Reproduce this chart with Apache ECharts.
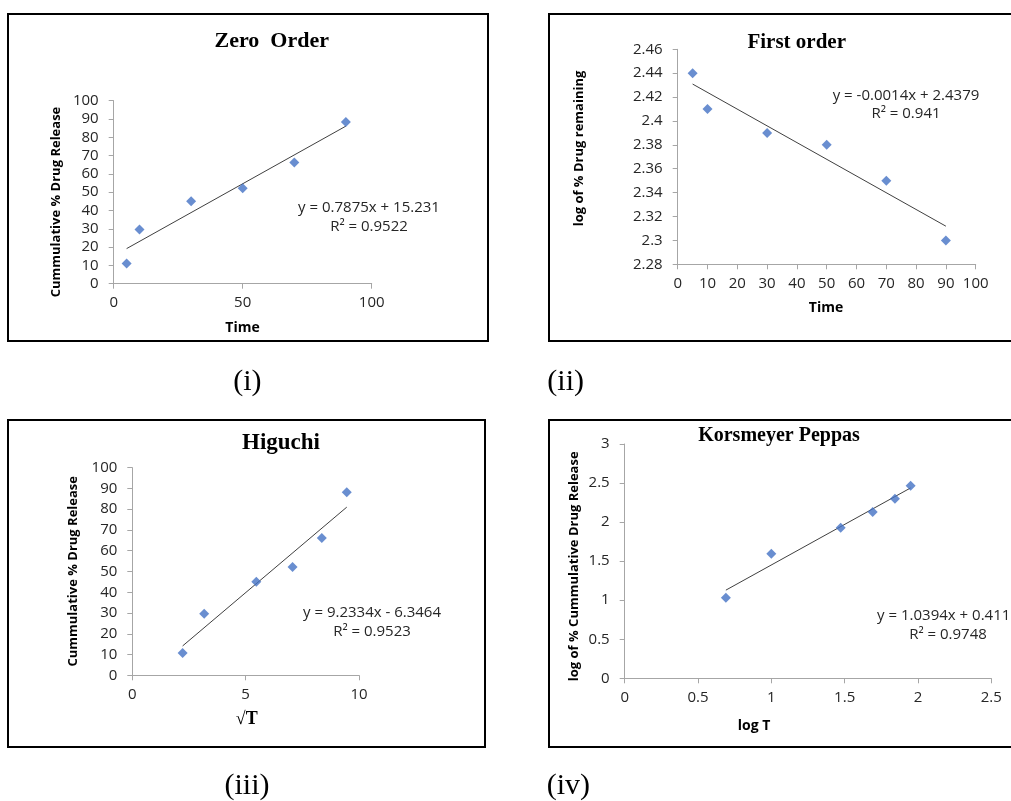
<!DOCTYPE html>
<html>
<head>
<meta charset="utf-8">
<script src="https://cdn.jsdelivr.net/npm/echarts@6/dist/echarts.min.js"></script>
<style>
html,body{margin:0;padding:0;background:#fff;}
#c{width:1011px;height:801px;}
</style>
</head>
<body>
<div id="c"></div>
<script>
// ---- Data ----
const zeroTime = [5, 10, 30, 50, 70, 90];
const zeroRelease = [11, 29.6, 45, 52.1, 66.2, 88.3];
const zeroTrend = [[5, 19.17], [90, 86.11]];

const firstTime = [5, 10, 30, 50, 70, 90];
const firstLogRemaining = [2.44, 2.41, 2.39, 2.38, 2.35, 2.30];
const firstTrend = [[5, 2.4309], [90, 2.3119]];

const higuchiSqrtT = [2.22, 3.17, 5.47, 7.07, 8.36, 9.46];
const higuchiRelease = [10.8, 29.7, 45.1, 52.2, 66.1, 88.2];
const higuchiTrend = [[2.22, 14.15], [9.46, 81.0]];

const peppasLogT = [0.69, 1.0, 1.473, 1.691, 1.843, 1.95];
const peppasLogRelease = [1.03, 1.596, 1.929, 2.13, 2.30, 2.467];
const peppasTrend = [[0.69, 1.129], [1.95, 2.438]];

const titles = ['Zero  Order', 'First order', 'Higuchi', 'Korsmeyer Peppas'];
const captions = ['(i)', '(ii)', '(iii)', '(iv)'];
const equations = [
  ['y = 0.7875x + 15.231', 'R\u00b2 = 0.9522'],
  ['y = -0.0014x + 2.4379', 'R\u00b2 = 0.941'],
  ['y = 9.2334x - 6.3464', 'R\u00b2 = 0.9523'],
  ['y = 1.0394x + 0.4115', 'R\u00b2 = 0.9748']
];
const yNames = ['Cummulative % Drug Release', 'log of % Drug remaining', 'Cummulative % Drug Release', 'log of % Cummulative Drug Release'];
const xNames = ['Time', 'Time', '\u221aT', 'log T'];

// ---- Styling ----
const SANS = '"Open Sans", "Liberation Sans", sans-serif';
const SERIF = '"Liberation Serif", "Times New Roman", serif';
const MARK = '#4472C4';
const AXIS = '#A6A6A6';
const TXT = '#262626';

const grids = [
  {left: 113.7, top: 100.7, width: 258, height: 183},
  {left: 677.7, top: 49.3, width: 298, height: 215},
  {left: 132.3, top: 467.7, width: 226.7, height: 207.6},
  {left: 624.7, top: 444, width: 366.6, height: 234.3}
];
const xr = [[0, 100, 50], [0, 100, 10], [0, 10, 5], [0, 2.5, 0.5]];
const yr = [[0, 100, 10], [2.28, 2.46, 0.02], [0, 100, 10], [0, 3, 0.5]];

function axisCommon(i, range, isX) {
  return {
    type: 'value', gridIndex: i, min: range[0], max: range[1], interval: range[2],
    axisLine: {show: true, onZero: false, lineStyle: {color: AXIS, width: 1}},
    axisTick: {show: true, inside: false, length: 5, lineStyle: {color: AXIS}},
    splitLine: {show: false},
    axisLabel: {color: TXT, fontFamily: SANS, fontSize: 15, margin: isX ? 12 : 15,
      formatter: v => String(+v.toFixed(4))}
  };
}

const pts = [
  zeroTime.map((x, k) => [x, zeroRelease[k]]),
  firstTime.map((x, k) => [x, firstLogRemaining[k]]),
  higuchiSqrtT.map((x, k) => [x, higuchiRelease[k]]),
  peppasLogT.map((x, k) => [x, peppasLogRelease[k]])
];
const trends = [zeroTrend, firstTrend, higuchiTrend, peppasTrend];

const series = [];
for (let i = 0; i < 4; i++) {
  series.push({type: 'line', xAxisIndex: i, yAxisIndex: i, data: trends[i], symbol: 'none',
    lineStyle: {color: '#404040', width: 1}, silent: true, z: 2});
  series.push({type: 'scatter', xAxisIndex: i, yAxisIndex: i, data: pts[i], symbol: 'diamond',
    symbolSize: [10, 10], itemStyle: {color: MARK}, z: 3});
}

// text layout
const boxes = [[8, 14, 480, 327], [549, 14, 470, 327], [8, 420, 477, 327], [549, 420, 470, 327]];
const titlePos = [[271.7, 41.7, 22], [796.7, 42.7, 21], [281, 443, 23], [779, 435.7, 20]];
const capPos = [[247.3, 382], [565.7, 382], [247, 786], [568.3, 786]];
const eqPos = [[369, 208, 227], [906, 95.3, 114], [372, 613, 632], [948, 616, 634.3]];
const yNamePos = [[56, 202], [579, 148.5], [73, 571.3], [574.7, 566.3]];
const xNamePos = [[242.5, 328], [826, 308], [246.7, 719.3], [754, 726]];

const graphic = [];
for (let i = 0; i < 4; i++) {
  const b = boxes[i];
  graphic.push({type: 'rect', shape: {x: b[0], y: b[1], width: b[2], height: b[3]},
    style: {fill: 'none', stroke: '#000', lineWidth: 2}, z: 1});
  graphic.push({type: 'text', x: titlePos[i][0], y: titlePos[i][1],
    style: {text: titles[i], font: 'bold ' + titlePos[i][2] + 'px ' + SERIF, fill: '#000',
      textAlign: 'center', textVerticalAlign: 'middle'}});
  graphic.push({type: 'text', x: capPos[i][0], y: capPos[i][1],
    style: {text: captions[i], font: '30px ' + SERIF, fill: '#000', textAlign: 'center', textVerticalAlign: 'middle'}});
  graphic.push({type: 'text', x: eqPos[i][0], y: eqPos[i][1],
    style: {text: equations[i][0], font: '15px ' + SANS, fill: TXT, textAlign: 'center', textVerticalAlign: 'middle'}});
  graphic.push({type: 'text', x: eqPos[i][0], y: eqPos[i][2],
    style: {text: equations[i][1], font: '15px ' + SANS, fill: TXT, textAlign: 'center', textVerticalAlign: 'middle'}});
  graphic.push({type: 'text', x: yNamePos[i][0], y: yNamePos[i][1], rotation: Math.PI / 2,
    style: {text: yNames[i], font: 'bold 13px ' + SANS, fill: '#000', textAlign: 'center', textVerticalAlign: 'middle'}});
  const xf = i === 2 ? 'bold 18px ' + SERIF : 'bold 14px ' + SANS;
  graphic.push({type: 'text', x: xNamePos[i][0], y: xNamePos[i][1],
    style: {text: xNames[i], font: xf, fill: '#000', textAlign: 'center', textVerticalAlign: 'middle'}});
}

const chart = echarts.init(document.getElementById('c'), null, {renderer: 'canvas'});
chart.setOption({
  animation: false,
  backgroundColor: '#fff',
  grid: grids.map(g => Object.assign({containLabel: false}, g)),
  xAxis: xr.map((r, i) => axisCommon(i, r, true)),
  yAxis: yr.map((r, i) => axisCommon(i, r, false)),
  series: series,
  graphic: graphic
});
</script>
</body>
</html>
